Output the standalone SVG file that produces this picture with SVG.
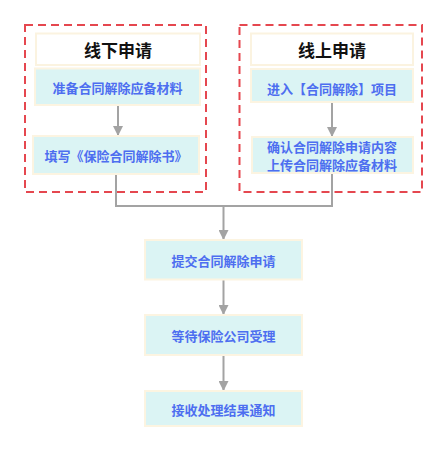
<svg xmlns="http://www.w3.org/2000/svg" width="447" height="451" viewBox="0 0 447 451">
<style>
.grp{fill:none;stroke:#e5474f;stroke-width:2;stroke-dasharray:8,5}
.title{fill:#ffffff;stroke:#fbf3e0;stroke-width:2}
.box{fill:#dbf4f4;stroke:#fcf4e1;stroke-width:2}
.tt{font-family:"Noto Sans CJK SC","Noto Sans",sans-serif;font-size:17px;font-weight:bold;fill:#111;text-anchor:middle;dominant-baseline:central}
.t{font-family:"Noto Sans CJK SC","Noto Sans",sans-serif;font-size:13px;font-weight:bold;fill:#4d6ef0;text-anchor:middle;dominant-baseline:central}
.c{fill:none;stroke:#a3a3a3;stroke-width:2}
</style>
<defs>
<marker id="ah" viewBox="0 0 10 10" refX="10" refY="5" markerWidth="5" markerHeight="5" orient="auto" markerUnits="strokeWidth">
<path d="M0,0 L10,5 L0,10 z" fill="#a3a3a3"/>
</marker>
</defs>
<rect width="447" height="451" fill="#ffffff"/>
<g id="group-offline"><rect class="grp" x="25" y="25" width="181" height="167"/></g>
<g id="group-online"><rect class="grp" x="239.5" y="25" width="182.5" height="167"/></g>
<g id="connectors">
<path class="c" d="M118,106 V136" marker-end="url(#ah)"/>
<path class="c" d="M332,102 V137" marker-end="url(#ah)"/>
<path class="c" d="M116,174 V206 H332 V173"/>
<path class="c" d="M223.5,206 V240" marker-end="url(#ah)"/>
<path class="c" d="M223.5,280 V315" marker-end="url(#ah)"/>
<path class="c" d="M223.5,355 V391" marker-end="url(#ah)"/>
</g>
<g id="title-offline"><rect class="title" x="36" y="33.5" width="164" height="31.5"/><text class="tt" x="118" y="49">线下申请</text></g>
<g id="n1"><rect class="box" x="35" y="68.5" width="165" height="36.5"/><text class="t" x="117.5" y="87">准备合同解除应备材料</text></g>
<g id="n2"><rect class="box" x="33" y="136" width="166" height="38"/><text class="t" x="116" y="155">填写《保险合同解除书》</text></g>
<g id="title-online"><rect class="title" x="251" y="33.5" width="162" height="31.5"/><text class="tt" x="332" y="49">线上申请</text></g>
<g id="n3"><rect class="box" x="251" y="69" width="162" height="33"/><text class="t" x="332" y="88">进入【合同解除】项目</text></g>
<g id="n4"><rect class="box" x="252" y="137" width="161" height="36"/><text class="t" x="332" y="146.5">确认合同解除申请内容</text><text class="t" x="332" y="164.5">上传合同解除应备材料</text></g>
<g id="n5"><rect class="box" x="145" y="240" width="157" height="39.5"/><text class="t" x="223.5" y="260">提交合同解除申请</text></g>
<g id="n6"><rect class="box" x="145" y="315" width="157" height="40"/><text class="t" x="223.5" y="335">等待保险公司受理</text></g>
<g id="n7"><rect class="box" x="145" y="391" width="157" height="35"/><text class="t" x="223.5" y="409">接收处理结果通知</text></g>
</svg>
